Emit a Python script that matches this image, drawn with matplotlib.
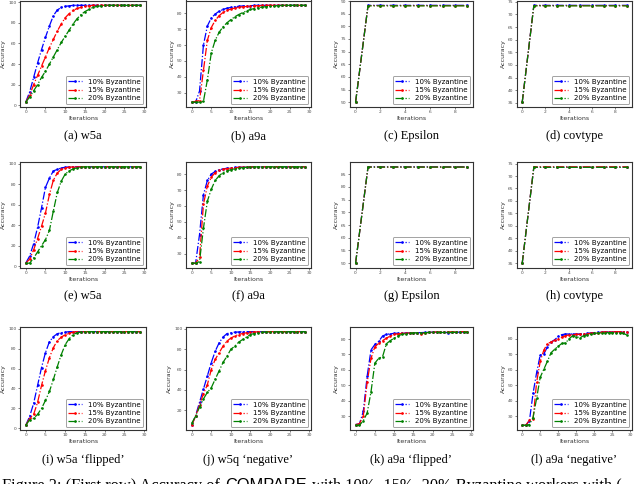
import matplotlib
matplotlib.use('Agg')
import matplotlib.pyplot as plt
from matplotlib.ticker import MultipleLocator

# iteration axes
iters30 = list(range(30))
iters10 = list(range(10))

labels = ['10% Byzantine', '15% Byzantine', '20% Byzantine']
colors = ['blue', 'red', 'green']

# (a) w5a
a_10 = [3, 13, 27, 41, 54, 66, 77, 87, 92.5, 95, 96, 96.5] + [97] * 18
a_15 = [3, 10, 20, 29, 38, 47, 56, 64, 72, 79, 85, 89, 92, 94, 95, 96, 96.5] + [97] * 13
a_20 = [3, 8, 14, 20, 27, 33, 40, 47, 54, 61, 67, 73, 79, 84, 88, 91, 93, 95, 96, 96.5] + [97] * 10

# (b) a9a
b_10 = [24, 24, 31, 60, 72, 77, 79.5, 81.3, 82.4, 83.2, 83.7, 84.1, 84.4, 84.6, 84.7, 84.8, 84.9] + [85] * 13
b_15 = [24, 24.5, 25, 44, 63, 71, 75.5, 78.5, 80.5, 81.8, 82.7, 83.3, 83.8, 84.1, 84.3, 84.5, 84.7, 84.8, 84.9] + [85] * 11
b_20 = [24, 24, 24, 24.5, 38, 55, 63, 68, 71.5, 74, 76, 77.8, 79.2, 80.4, 81.5, 82.4, 83, 83.5, 83.9, 84.2,
        84.4, 84.6, 84.8, 84.9] + [85] * 6

# (c) Epsilon
c_10 = [50] + [88.3] * 9
c_15 = [50] + [88.2] * 9
c_20 = [50] + [88.1] * 9

# (d) covtype
d_10 = [35.3] + [73.6] * 9
d_15 = [35.3] + [73.5] * 9
d_20 = [35.3] + [73.4] * 9

# (e) w5a
e_10 = [3, 10, 22, 38, 57, 77, 86, 93, 94.5, 96, 96.5] + [97] * 19
e_15 = [3, 7, 16, 27, 39, 52, 70, 84, 91, 94.5, 96, 96.5] + [97] * 18
e_20 = [3, 3, 8, 14, 20, 26, 35, 54, 72, 83, 90, 93, 95, 96, 96.5] + [97] * 15

# (f) a9a
f_10 = [24, 24, 42, 67, 76, 80, 81.7, 82.7, 83.3, 83.7, 84, 84.2, 84.3, 84.4, 84.5] + [84.6] * 15
f_15 = [24, 24, 27.6, 61, 72.6, 78, 81, 82.3, 83, 83.5, 83.8, 84, 84.2, 84.3, 84.4, 84.5] + [84.6] * 14
f_20 = [24, 24, 25, 46, 63, 70.5, 76, 79, 81, 82, 82.8, 83.4, 83.8, 84.1, 84.3, 84.4, 84.5] + [84.6] * 13

# (g) Epsilon
g_10 = [50] + [87.9] * 9
g_15 = [50] + [87.8] * 9
g_20 = [50] + [87.8] * 9

# (h) covtype
h_10 = [35] + [73.6] * 9
h_15 = [35] + [73.7] * 9
h_20 = [35] + [73.5] * 9

# (i) w5a 'flipped'
i_10 = [3, 12, 25, 43, 61, 76, 87, 92, 95, 96, 96.5] + [97] * 19
i_15 = [3, 10, 14, 26, 43, 58, 71, 81, 88, 91.5, 94, 95.5, 96.5] + [97] * 17
i_20 = [3, 8.5, 10, 14, 20, 28, 37, 49, 62, 74, 84, 90, 94, 96, 96.5] + [97] * 15

# (j) w5q 'negative'
j_10 = [5, 14.6, 27.7, 40.7, 53.7, 66.8, 78, 86.3, 92, 95.4, 96.3, 96.8, 97] + [97.3] * 17
j_15 = [5, 14, 25, 36, 45, 60, 70, 76.5, 83, 88, 91, 93, 94.5, 95.5, 96.2, 96.7, 97, 97.1, 97.2] + [97.3] * 11
j_20 = [7, 14, 23, 31, 37.5, 42, 50.5, 58.6, 67, 73, 80, 83, 87, 89.6, 92, 94.5, 95.5, 96.2, 96.7, 96.9,
        97, 97.1, 97.2] + [97.3] * 7

# (k) a9a 'flipped'
k_10 = [24.5, 25, 33, 56, 73, 76.5, 78.5, 82, 83.1, 83.4, 83.7, 83.8, 83.9, 84, 84, 84, 84.1, 84.2, 84.3, 84.4,
        84.5, 84.5, 84.4, 84.3, 84.2, 84.3, 84.4, 84.5, 84.5, 84.6]
k_15 = [24.5, 25, 30, 52, 67.5, 75, 77.3, 79, 80.6, 82, 83.1, 83.4, 83.7, 83.8, 83.9, 83.9, 83.7, 83.5, 84, 84.3,
        84.5, 84.6, 84.6, 84.7, 84.7, 84.7, 84.8, 84.8, 84.8, 84.8]
k_20 = [24, 24, 27, 32, 45.8, 64.4, 67.5, 68.6, 77, 79, 80.6, 82, 83.1, 83.6, 83.8, 84, 84.1, 84.1, 84.2, 84.3,
        84.3, 84.3, 84.3, 84.3, 84.3, 84.3, 84.4, 84.4, 84.4, 84.4]

# (l) a9a 'negative'
l_10 = [24, 24, 27, 44.7, 58.2, 69.6, 70.2, 74.8, 77.9, 79.4, 81.5, 82.7, 83.1, 83.1, 83.1, 83.1, 83.1, 83.2,
        83.5, 83.8, 84, 84.2, 84.3, 84.4, 84.5, 84.6, 84.6, 84.6, 84.6, 84.6]
l_15 = [24, 24, 27.5, 28, 52, 65.5, 72.7, 76.9, 77.9, 79, 80, 81, 82, 82.5, 82.7, 82.8, 82.9, 83, 83.3, 83.5,
        83.7, 84, 84.2, 84.3, 84.4, 84.5, 84.5, 84.6, 84.6, 84.6]
l_20 = [24, 24, 24.5, 29, 41.6, 55.2, 60.3, 65.5, 71, 73.2, 75.2, 77, 77.3, 80, 82, 81.4, 80.6, 82, 82.6, 83,
        83.5, 83.7, 83.8, 83.9, 84, 84, 84, 84, 83.5, 82.5]

captions = ['(a) w5a', '(b) a9a', '(c) Epsilon', '(d) covtype',
            '(e) w5a', '(f) a9a', '(g) Epsilon', '(h) covtype',
            '(i) w5a \u2018flipped\u2019', '(j) w5q \u2018negative\u2019',
            '(k) a9a \u2018flipped\u2019', '(l) a9a \u2018negative\u2019']

# figure caption pieces (only the top of this line is inside the picture)
fig_caption = [('Figure 2: (First row) Accuracy of', 'Liberation Serif'),
               ('COMPARE', 'Liberation Sans'),
               ('with 10%, 15%, 20% Byzantine workers with (', 'Liberation Serif')]

panels = [
    (iters30, [a_10, a_15, a_20], 5, 20),
    (iters30, [b_10, b_15, b_20], 5, 10),
    (iters10, [c_10, c_15, c_20], 2, 5),
    (iters10, [d_10, d_15, d_20], 2, 5),
    (iters30, [e_10, e_15, e_20], 5, 20),
    (iters30, [f_10, f_15, f_20], 5, 10),
    (iters10, [g_10, g_15, g_20], 2, 5),
    (iters10, [h_10, h_15, h_20], 2, 5),
    (iters30, [i_10, i_15, i_20], 5, 20),
    (iters30, [j_10, j_15, j_20], 5, 20),
    (iters30, [k_10, k_15, k_20], 5, 10),
    (iters30, [l_10, l_15, l_20], 5, 10),
]

# pixel boxes (left, right) per column and (top, bottom) per row
col_px = [(20, 146), (186, 311), (350, 473), (517, 632)]
row_px = [(0.5, 107), (162, 268), (327, 430)]
cap_y = [136, 296, 460]

W, H = 640, 484
plt.rcParams['axes.edgecolor'] = '0.2'
plt.rcParams['axes.linewidth'] = 0.8

fig = plt.figure(figsize=(6.4, 4.84), dpi=100)

for n, (xs, series, xstep, ystep) in enumerate(panels):
    r, c = divmod(n, 4)
    x0, x1 = col_px[c]
    y0, y1 = row_px[r]
    ax = fig.add_axes([x0 / W, 1 - y1 / H, (x1 - x0) / W, (y1 - y0) / H])
    for ys, col, lab in zip(series, colors, labels):
        ax.plot(xs, ys, color=col, linestyle='-.', linewidth=0.9, marker='.', markersize=1.8, label=lab)
    ax.xaxis.set_major_locator(MultipleLocator(xstep))
    ax.yaxis.set_major_locator(MultipleLocator(ystep))
    ax.tick_params(labelsize=3.2, length=1.5, width=0.5, pad=1, colors='0.3')
    ax.set_xlabel('Iterations', fontsize=4.5, labelpad=1, color='0.2')
    ax.set_ylabel('Accuracy', fontsize=4.5, labelpad=1.5, color='0.2')
    leg = ax.legend(loc='lower right', fontsize=5, handlelength=2.0, handletextpad=0.8,
                    labelspacing=0.35, borderaxespad=0.4, borderpad=0.4, fancybox=True)
    leg.get_frame().set_edgecolor('0.55')
    leg.get_frame().set_linewidth(0.7)
    fig.text((x0 + x1) / 2 / W, 1 - cap_y[r] / H, captions[n], ha='center', va='center',
             fontsize=9, family='Liberation Serif')

# chain the caption pieces left to right
renderer = fig.canvas.get_renderer()
base = 1 - 490 / H
xpos = 2
for txt, fam in fig_caption:
    t = fig.text(xpos / W, base, txt, ha='left', va='baseline', fontsize=11.8, family=fam)
    xpos = t.get_window_extent(renderer).x1 + 5

fig.savefig('out.png', dpi=100)
